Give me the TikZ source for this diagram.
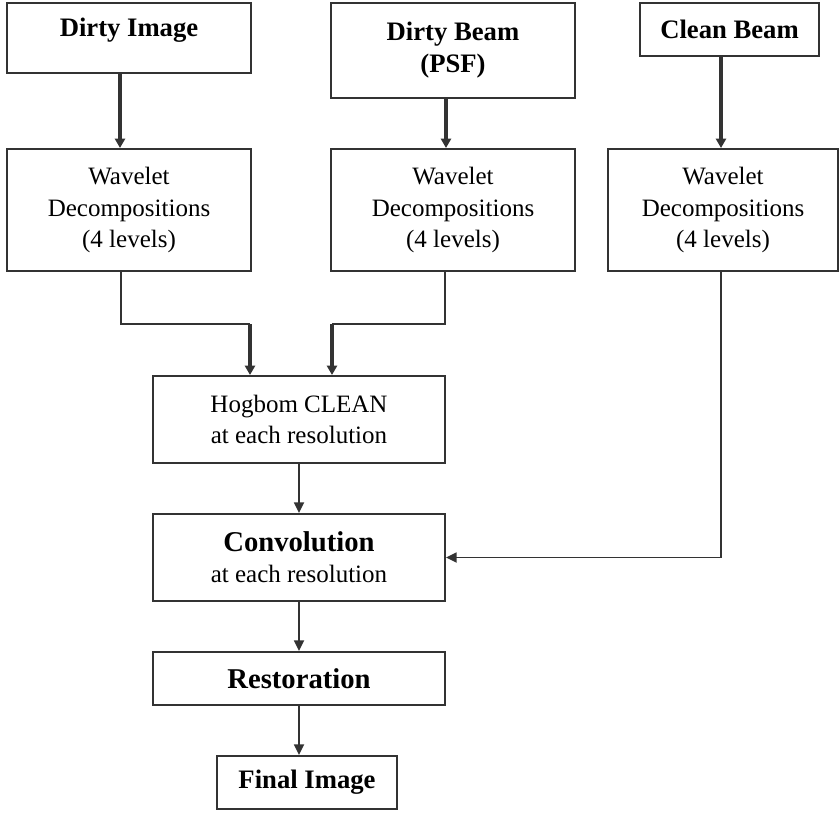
\documentclass[tikz,border=0pt]{standalone}
\usepackage{fontspec}
\setmainfont{Liberation Serif}
\usetikzlibrary{arrows.meta,positioning}
\definecolor{linegray}{rgb}{0.2,0.2,0.2}

\begin{document}
\begin{tikzpicture}[x=0.75pt,y=-0.75pt,
    box/.style = {draw=linegray, line width=1.5pt, inner sep=0pt, align=center,
                  font=\fontsize{18.75}{23.5}\selectfont},
    boldbox/.style = {box, font=\fontsize{20}{24}\selectfont\bfseries},
    bigbold/.style = {box, font=\fontsize{21.5}{24}\selectfont\bfseries},
    link/.style = {draw=linegray, line width=1.3pt},
    flow/.style = {link, -{Triangle[length=8pt,width=7.5pt]}},
    thickflow/.style = {link, line width=2.5pt, -{Triangle[length=7pt,width=7.5pt]}}]
              \useasboundingbox (0,0) rectangle (839,814);

              \node[boldbox, minimum width=183pt, minimum height=52.5pt,
                    text height=24.75pt, text depth=27.75pt] (dimg) at (129,38) {Dirty Image};
              \node[boldbox, minimum width=183pt, minimum height=71.25pt] (dbeam) at (453,50.5) {Dirty Beam\\(PSF)};
              \node[boldbox, minimum width=134.25pt, minimum height=39.75pt] (cbeam) at (729.5,29.5) {Clean Beam};

              \node[box, minimum width=183pt, minimum height=91.5pt] (wav1) at (129,210) {Wavelet\\Decompositions\\(4 levels)};
              \node[box, minimum width=183pt, minimum height=91.5pt] (wav2) at (453,210) {Wavelet\\Decompositions\\(4 levels)};
              \node[box, minimum width=172.5pt, minimum height=91.5pt] (wav3) at (723,210) {Wavelet\\Decompositions\\(4 levels)};

              \node[box, minimum width=219pt, minimum height=65.25pt] (hog) at (299,419.5) {Hogbom CLEAN\\at each resolution};
              \node[box, minimum width=219pt, minimum height=65.25pt] (conv) at (299,557.5)
                    {{\fontsize{21.5}{24}\selectfont\bfseries Convolution}\\at each resolution};
              \node[bigbold, minimum width=219pt, minimum height=39.75pt] (rest) at (299,678.5) {Restoration};
              \node[boldbox, minimum width=135pt, minimum height=39.75pt] (fin) at (307,782.5) {Final Image};

              \coordinate (j1) at (250,324);
              \coordinate (j2) at (332,324);

              \draw[thickflow] ([xshift=-6.75pt]dimg.south) coordinate (a1) -- (a1 |- wav1.north);
              \draw[thickflow] ([xshift=-5.25pt]dbeam.south) coordinate (a2) -- (a2 |- wav2.north);
              \draw[thickflow] ([xshift=-6.375pt]cbeam.south) coordinate (a3) -- (a3 |- wav3.north);

              \draw[link] ([xshift=-6pt]wav1.south) |- (j1);
              \draw[link] ([xshift=-6pt]wav2.south) |- (j2);
              \draw[thickflow] (j1) -- (j1 |- hog.north);
              \draw[thickflow] (j2) -- (j2 |- hog.north);
              \draw[flow] ([xshift=-1.5pt]wav3.south) |- (conv.east);

              \draw[flow] (hog) -- (conv);
              \draw[flow] (conv) -- (rest);
              \draw[flow] (rest.south) -- (rest.south |- fin.north);
\end{tikzpicture}
\end{document}
